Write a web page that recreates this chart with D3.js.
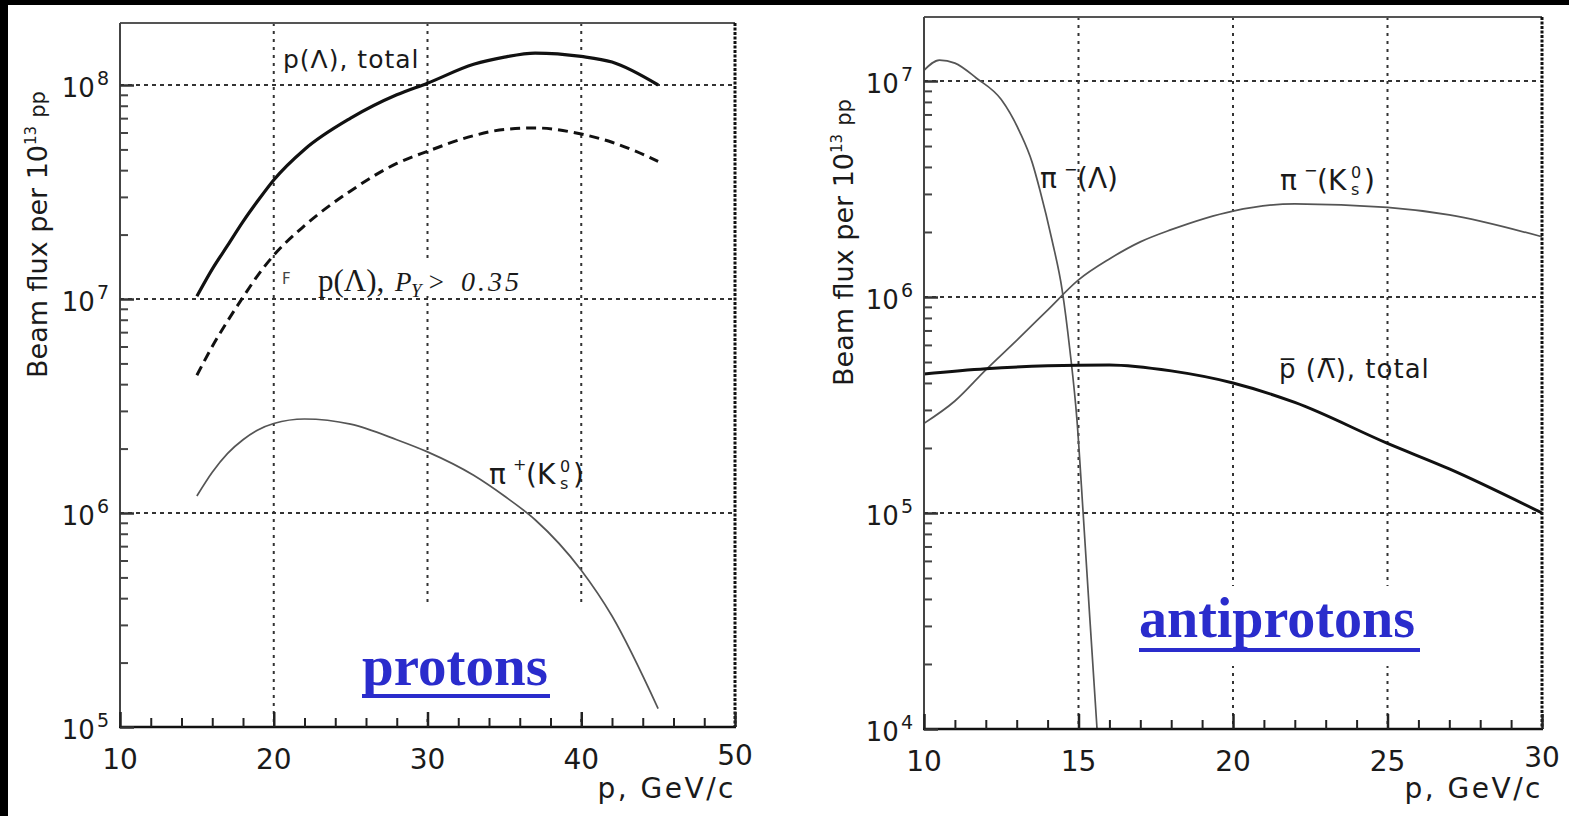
<!DOCTYPE html>
<html>
<head>
<meta charset="utf-8">
<script src="https://cdn.jsdelivr.net/npm/d3@7"></script>
<style>
html, body { margin: 0; padding: 0; background: #000; }
svg { display: block; }
text { font-family: "DejaVu Sans", sans-serif; fill: #1a1a1a; }
</style>
</head>
<body>
<svg id="chart" width="1569" height="816"></svg>
<script>
// ---- protons panel (momentum in GeV/c, flux per 1e13 pp)
const protonP = [15, 16, 17, 18, 19, 20, 22, 25, 28, 30, 33, 35, 37, 40, 42, 45];
const pLambdaTotal = [1.03e7, 1.38e7, 1.78e7, 2.3e7, 2.9e7, 3.6e7, 5.0e7, 7.0e7, 9.0e7, 1.02e8, 1.25e8, 1.35e8, 1.41e8, 1.36e8, 1.28e8, 1.0e8];
const pLambdaPol = [4.4e6, 6.0e6, 7.9e6, 1.02e7, 1.3e7, 1.6e7, 2.2e7, 3.2e7, 4.3e7, 4.9e7, 5.8e7, 6.2e7, 6.3e7, 5.9e7, 5.4e7, 4.4e7];
const piPlusK0s = [1.2e6, 1.55e6, 1.9e6, 2.2e6, 2.45e6, 2.62e6, 2.75e6, 2.6e6, 2.2e6, 1.93e6, 1.5e6, 1.2e6, 9.3e5, 5.4e5, 3.3e5, 1.22e5];

// ---- antiprotons panel
const piMinusLambdaP = [10, 10.5, 11, 11.7, 12.5, 13.1, 13.5, 13.75, 14.14, 14.47, 14.72, 14.95, 15.15, 15.37, 15.6];
const piMinusLambda = [1.12e7, 1.25e7, 1.21e7, 1.03e7, 8.2e6, 5.8e6, 4.2e6, 3.13e6, 1.84e6, 1.08e6, 5.7e5, 2.7e5, 1.0e5, 3.2e4, 1.0e4];
const piMinusK0sP = [10, 11, 12, 13, 14, 15, 16, 17, 18, 20, 22, 25, 27, 30];
const piMinusK0s = [2.6e5, 3.3e5, 4.6e5, 6.3e5, 8.7e5, 1.2e6, 1.5e6, 1.8e6, 2.05e6, 2.5e6, 2.7e6, 2.6e6, 2.4e6, 1.9e6];
const pbarP = [10, 12, 14, 16, 18, 20, 22, 25, 27, 30];
const pbarTotal = [4.4e5, 4.65e5, 4.8e5, 4.85e5, 4.55e5, 4.0e5, 3.25e5, 2.1e5, 1.6e5, 1.0e5];

// ---- axes
const leftXTicks = [10, 20, 30, 40, 50];
const rightXTicks = [10, 15, 20, 25, 30];
const leftDecades = [5, 6, 7, 8];
const rightDecades = [4, 5, 6, 7];

const svg = d3.select("#chart");
svg.append("rect").attr("x", 8).attr("y", 5).attr("width", 1561).attr("height", 811).attr("fill", "#fff");

function drawPanel(cfg) {
    const g = svg.append("g");
    const x = d3.scaleLinear().domain(cfg.xDomain).range([cfg.left, cfg.right]);
    const y = d3.scaleLog().domain([Math.pow(10, cfg.decades[0]), Math.pow(10, cfg.decades[cfg.decades.length - 1])])
        .range([cfg.bottom, cfg.topDecadeY]);
    const top = cfg.top;

    // grid
    g.selectAll(".vgrid")
        .data(cfg.xTicks.slice(1, -1))
        .enter().append("line")
        .attr("x1", d => x(d)).attr("x2", d => x(d))
        .attr("y1", top).attr("y2", cfg.bottom)
        .attr("stroke", "#333").attr("stroke-width", 2).attr("stroke-dasharray", "3,5");
    g.selectAll(".hgrid")
        .data(cfg.decades.slice(1))
        .enter().append("line")
        .attr("x1", cfg.left).attr("x2", cfg.right)
        .attr("y1", d => y(Math.pow(10, d))).attr("y2", d => y(Math.pow(10, d)))
        .attr("stroke", "#333").attr("stroke-width", 2).attr("stroke-dasharray", "4,4");

    // curves
    const line = d3.line().curve(d3.curveMonotoneX).x(d => x(d[0])).y(d => y(d[1]));
    cfg.series.forEach(s => {
        g.append("path")
            .datum(d3.zip(s.p, s.v))
            .attr("fill", "none")
            .attr("stroke", s.color)
            .attr("stroke-width", s.width)
            .attr("stroke-dasharray", s.dash || null)
            .attr("stroke-linejoin", "round")
            .attr("d", line);
    });

    // white patches behind pasted labels
    cfg.patches.forEach(p => {
        g.append("rect").attr("x", p[0]).attr("y", p[1]).attr("width", p[2]).attr("height", p[3]).attr("fill", "#fff");
    });

    // frame
    g.append("line").attr("x1", cfg.left).attr("x2", cfg.right).attr("y1", top).attr("y2", top)
        .attr("stroke", "#555").attr("stroke-width", 2);
    g.append("line").attr("x1", cfg.right).attr("x2", cfg.right).attr("y1", top).attr("y2", cfg.bottom)
        .attr("stroke", "#111").attr("stroke-width", 3).attr("stroke-dasharray", "3,1.5");
    g.append("line").attr("x1", cfg.left).attr("x2", cfg.left).attr("y1", top).attr("y2", cfg.bottom)
        .attr("stroke", "#444").attr("stroke-width", 2);
    g.append("line").attr("x1", cfg.left - 1).attr("x2", cfg.right + 1).attr("y1", cfg.bottom).attr("y2", cfg.bottom)
        .attr("stroke", "#111").attr("stroke-width", 2.5);

    // y ticks
    const minorY = [];
    cfg.decades.forEach(dd => {
        for (let k = 2; k <= 9; k++) {
            const v = k * Math.pow(10, dd);
            if (y(v) > top + 1) minorY.push(v);
        }
    });
    g.append("g").attr("transform", `translate(${cfg.left},0)`)
        .call(d3.axisRight(y).tickValues(minorY).tickSize(8).tickFormat(""))
        .call(a => a.select(".domain").remove())
        .call(a => a.selectAll("line").attr("stroke", "#444").attr("stroke-width", 2));
    g.append("g").attr("transform", `translate(${cfg.left},0)`)
        .call(d3.axisRight(y).tickValues(cfg.decades.map(d => Math.pow(10, d))).tickSize(14).tickFormat(""))
        .call(a => a.select(".domain").remove())
        .call(a => a.selectAll("line").attr("stroke", "#333").attr("stroke-width", 2.5));

    // x ticks
    const minorX = d3.range(cfg.xDomain[0], cfg.xDomain[1] + 0.001, cfg.minorStep)
        .filter(v => !cfg.xTicks.includes(v));
    g.append("g").attr("transform", `translate(0,${cfg.bottom})`)
        .call(d3.axisTop(x).tickValues(minorX).tickSize(9).tickFormat(""))
        .call(a => a.select(".domain").remove())
        .call(a => a.selectAll("line").attr("stroke", "#222").attr("stroke-width", 2));
    g.append("g").attr("transform", `translate(0,${cfg.bottom})`)
        .call(d3.axisTop(x).tickValues(cfg.xTicks).tickSize(15).tickFormat(""))
        .call(a => a.select(".domain").remove())
        .call(a => a.selectAll("line").attr("stroke", "#222").attr("stroke-width", 2.5));

    // y tick labels
    cfg.decades.forEach(dd => {
        const t = g.append("text")
            .attr("x", cfg.left - 11)
            .attr("y", y(Math.pow(10, dd)) + 12)
            .attr("text-anchor", "end")
            .style("font-size", "26px");
        t.append("tspan").text("10");
        t.append("tspan").attr("dy", -12).attr("dx", 2).style("font-size", "19px").text(dd);
    });

    // x tick labels
    cfg.xTicks.forEach((v, i) => {
        g.append("text")
            .attr("x", x(v))
            .attr("y", cfg.bottom + (i === cfg.xTicks.length - 1 ? 38 : 42))
            .attr("text-anchor", "middle")
            .style("font-size", "28px")
            .text(v);
    });

    // axis titles
    g.append("text")
        .attr("x", cfg.right + 1).attr("y", 798)
        .attr("text-anchor", "end")
        .style("font-size", "28px").style("letter-spacing", "2.5px")
        .text("p, GeV/c");
    const yt = g.append("text")
        .attr("transform", `translate(${cfg.titleX},${cfg.titleY}) rotate(-90)`)
        .style("font-size", "27px");
    yt.append("tspan").text("Beam flux per 10");
    yt.append("tspan").attr("dy", -11).style("font-size", "15px").text("13");
    yt.append("tspan").attr("dy", 9).attr("dx", 8).style("font-size", "21px").text("pp");

    return { g, x, y };
}

// ---------- protons
const L = drawPanel({
    left: 120, right: 735, top: 23, bottom: 727, topDecadeY: 85,
    xDomain: [10, 50], xTicks: leftXTicks, minorStep: 2, decades: leftDecades,
    titleX: 47, titleY: 378,
    patches: [[292, 262, 232, 34], [290, 607, 314, 108]],
    series: [
        { p: protonP, v: pLambdaTotal, color: "#111", width: 3.2 },
        { p: protonP, v: pLambdaPol, color: "#111", width: 3, dash: "10,6" },
        { p: protonP, v: piPlusK0s, color: "#555", width: 1.7 }
    ]
});

// ---------- antiprotons
const R = drawPanel({
    left: 924, right: 1542, top: 17, bottom: 729, topDecadeY: 81,
    xDomain: [10, 30], xTicks: rightXTicks, minorStep: 1, decades: rightDecades,
    titleX: 853, titleY: 386,
    patches: [[1130, 586, 296, 80]],
    series: [
        { p: piMinusLambdaP, v: piMinusLambda, color: "#555", width: 1.7 },
        { p: piMinusK0sP, v: piMinusK0s, color: "#555", width: 1.7 },
        { p: pbarP, v: pbarTotal, color: "#111", width: 3 }
    ]
});

// ---------- curve labels
const lbl = (g, xx, yy, size, str) =>
    g.append("text").attr("x", xx).attr("y", yy).style("font-size", size + "px").text(str);

// protons labels
lbl(L.g, 283, 68, 25, "p(\u039B), total").style("letter-spacing", "1px");
const pol = L.g.append("text").attr("x", 318).attr("y", 291)
    .style("font-family", "'Liberation Serif', serif").style("font-size", "31px");
pol.append("tspan").text("p(\u039B),");
pol.append("tspan").attr("x", 395).style("font-style", "italic").style("font-size", "27px").text("P");
pol.append("tspan").attr("x", 411).attr("dy", 6).style("font-style", "italic").style("font-size", "19px").text("Y");
pol.append("tspan").attr("x", 427).attr("dy", -6).style("font-style", "italic").style("font-size", "27px").text(">");
pol.append("tspan").attr("x", 461).style("font-style", "italic").style("font-size", "28px")
    .style("letter-spacing", "3px").text("0.35");
lbl(L.g, 282, 284, 15, "F").style("fill", "#444");

function kLabel(g, xx, yy, sign) {
    lbl(g, xx, yy, 28, "\u03C0");
    lbl(g, xx + 24, yy - 14, 16, sign);
    lbl(g, xx + 37, yy, 28, "(K");
    lbl(g, xx + 71, yy - 12, 16, "0");
    lbl(g, xx + 71, yy + 5, 16, "s");
    lbl(g, xx + 84, yy, 28, ")");
}
kLabel(L.g, 489, 484, "+");

// protons tag
L.g.append("text").attr("x", 362).attr("y", 685)
    .style("font-family", "'Liberation Serif', serif").style("font-weight", "bold")
    .style("font-size", "57px").style("fill", "#2a2ccc").text("protons");
L.g.append("rect").attr("x", 362).attr("y", 694).attr("width", 188).attr("height", 4).attr("fill", "#2a2ccc");

// antiprotons labels
lbl(R.g, 1040, 188, 28, "\u03C0");
lbl(R.g, 1064, 175, 16, "\u2212");
lbl(R.g, 1077, 188, 28, "(\u039B)");
kLabel(R.g, 1280, 190, "\u2212");
lbl(R.g, 1279, 378, 26, "p\u0305 (\u039B\u0305), total").style("letter-spacing", "1px");

R.g.append("text").attr("x", 1139).attr("y", 637)
    .style("font-family", "'Liberation Serif', serif").style("font-weight", "bold")
    .style("font-size", "56px").style("fill", "#2a2ccc").text("antiprotons");
R.g.append("rect").attr("x", 1139).attr("y", 648).attr("width", 281).attr("height", 4).attr("fill", "#2a2ccc");
</script>
</body>
</html>
